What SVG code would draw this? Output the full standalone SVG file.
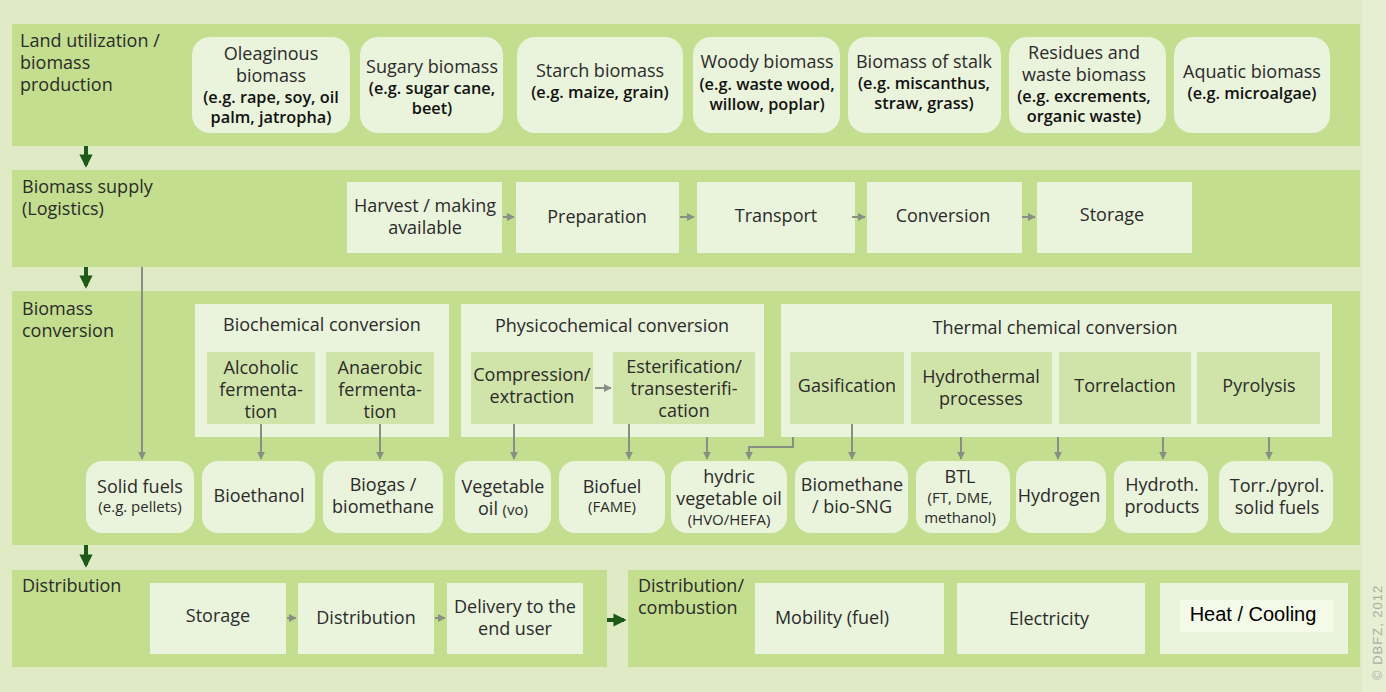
<svg xmlns="http://www.w3.org/2000/svg" width="1386" height="692" viewBox="0 0 1386 692">
<defs>
<style>
.bg{fill:#e0ebc6}
.band{fill:#c3de8e}
.node{fill:#eaf3db}
.sub{fill:#d0e4a9}
.grp{fill:#eaf3db}
text{font-family:"Open Sans",Lato,"Liberation Sans",sans-serif;fill:#2b2b2b}
.t{font-size:18px}
.c{font-size:18px;text-anchor:middle}
.eg{font-size:16.3px;text-anchor:middle;font-weight:600;fill:#111}
.sm{font-size:15px;text-anchor:middle}
.gl{stroke:#8a8f86;stroke-width:2;fill:none}
.dk{stroke:#1d5a17;stroke-width:4;fill:none}
</style>
<marker id="ga" viewBox="0 0 10 10" refX="9" refY="5" markerWidth="4" markerHeight="4" orient="auto"><path d="M0,0 L10,5 L0,10 z" fill="#8a8f86"/></marker>
<marker id="da" viewBox="0 0 10 10" refX="8" refY="5" markerWidth="3.3" markerHeight="3.3" orient="auto"><path d="M0,0 L10,5 L0,10 z" fill="#1d5a17"/></marker>
</defs>
<rect x="0" y="0" width="1386" height="692" class="bg"/>
<rect x="1362" y="0" width="24" height="692" fill="#e6efd2"/>

<!-- bands -->
<g id="band-land">
<rect class="band" x="12" y="24" width="1348" height="122"/>
<text class="t" x="20" y="47">Land utilization /</text>
<text class="t" x="20" y="69">biomass</text>
<text class="t" x="20" y="91">production</text>
</g>
<g id="band-supply">
<rect class="band" x="12" y="170" width="1348" height="97"/>
<text class="t" x="22" y="193">Biomass supply</text>
<text class="t" x="22" y="215">(Logistics)</text>
</g>
<g id="band-conv">
<rect class="band" x="12" y="291" width="1348" height="254"/>
<text class="t" x="22" y="315">Biomass</text>
<text class="t" x="22" y="337">conversion</text>
</g>
<g id="band-dist">
<rect class="band" x="12" y="570" width="595" height="97"/>
<text class="t" x="22" y="592">Distribution</text>
</g>
<g id="band-comb">
<rect class="band" x="628" y="570" width="732" height="97"/>
<text class="t" x="638" y="592">Distribution/</text>
<text class="t" x="638" y="614">combustion</text>
</g>

<!-- biomass production nodes -->
<g id="oleaginous"><rect class="node" x="192" y="37" width="158" height="96" rx="18"/>
<text class="c" x="271" y="60">Oleaginous</text><text class="c" x="271" y="82">biomass</text>
<text class="eg" x="271" y="103">(e.g. rape, soy, oil</text><text class="eg" x="271" y="123">palm, jatropha)</text></g>
<g id="sugary"><rect class="node" x="360" y="37" width="143" height="96" rx="18"/>
<text class="c" x="432" y="73">Sugary biomass</text>
<text class="eg" x="432" y="94">(e.g. sugar cane,</text><text class="eg" x="432" y="114">beet)</text></g>
<g id="starch"><rect class="node" x="517" y="37" width="166" height="96" rx="18"/>
<text class="c" x="600" y="77">Starch biomass</text>
<text class="eg" x="600" y="98">(e.g. maize, grain)</text></g>
<g id="woody"><rect class="node" x="693" y="37" width="147" height="96" rx="18"/>
<text class="c" x="767" y="68">Woody biomass</text>
<text class="eg" x="767" y="90">(e.g. waste wood,</text><text class="eg" x="767" y="110">willow, poplar)</text></g>
<g id="stalk"><rect class="node" x="848" y="37" width="153" height="96" rx="18"/>
<text class="c" x="924" y="68">Biomass of stalk</text>
<text class="eg" x="924" y="89">(e.g. miscanthus,</text><text class="eg" x="924" y="109">straw, grass)</text></g>
<g id="residues"><rect class="node" x="1009" y="37" width="157" height="96" rx="18"/>
<text class="c" x="1084" y="59">Residues and</text><text class="c" x="1084" y="81">waste biomass</text>
<text class="eg" x="1084" y="102">(e.g. excrements,</text><text class="eg" x="1084" y="122">organic waste)</text></g>
<g id="aquatic"><rect class="node" x="1174" y="37" width="156" height="96" rx="18"/>
<text class="c" x="1252" y="78">Aquatic biomass</text>
<text class="eg" x="1252" y="99">(e.g. microalgae)</text></g>

<!-- supply nodes -->
<g id="harvest"><rect class="node" x="347" y="182" width="155" height="71"/>
<text class="c" x="425" y="212">Harvest / making</text><text class="c" x="425" y="234">available</text></g>
<g id="preparation"><rect class="node" x="516" y="182" width="163" height="71"/>
<text class="c" x="597" y="223">Preparation</text></g>
<g id="transport"><rect class="node" x="697" y="182" width="158" height="71"/>
<text class="c" x="776" y="222">Transport</text></g>
<g id="conversion"><rect class="node" x="867" y="182" width="155" height="71"/>
<text class="c" x="943" y="222">Conversion</text></g>
<g id="storage1"><rect class="node" x="1037" y="182" width="155" height="71"/>
<text class="c" x="1112" y="221">Storage</text></g>

<!-- conversion groups -->
<g id="biochemical"><rect class="grp" x="195" y="304" width="254" height="133"/>
<text class="c" x="322" y="331">Biochemical conversion</text>
<rect class="sub" x="207" y="352" width="108" height="72"/>
<text class="c" x="261" y="374">Alcoholic</text><text class="c" x="261" y="396">fermenta-</text><text class="c" x="261" y="418">tion</text>
<rect class="sub" x="326" y="352" width="108" height="72"/>
<text class="c" x="380" y="374">Anaerobic</text><text class="c" x="380" y="396">fermenta-</text><text class="c" x="380" y="418">tion</text></g>
<g id="physicochemical"><rect class="grp" x="461" y="304" width="303" height="133"/>
<text class="c" x="612" y="332">Physicochemical conversion</text>
<rect class="sub" x="471" y="352" width="122" height="72"/>
<text class="c" x="532" y="381">Compression/</text><text class="c" x="532" y="403">extraction</text>
<rect class="sub" x="613" y="352" width="142" height="72"/>
<text class="c" x="684" y="373">Esterification/</text><text class="c" x="684" y="395">transesterifi-</text><text class="c" x="684" y="417">cation</text></g>
<g id="thermal"><rect class="grp" x="781" y="304" width="551" height="133"/>
<text class="c" x="1055" y="334">Thermal chemical conversion</text>
<rect class="sub" x="790" y="352" width="114" height="72"/>
<text class="c" x="847" y="392">Gasification</text>
<rect class="sub" x="911" y="352" width="141" height="72"/>
<text class="c" x="981" y="383">Hydrothermal</text><text class="c" x="981" y="405">processes</text>
<rect class="sub" x="1059" y="352" width="132" height="72"/>
<text class="c" x="1125" y="392">Torrelaction</text>
<rect class="sub" x="1197" y="352" width="123" height="72"/>
<text class="c" x="1259" y="392">Pyrolysis</text></g>

<!-- products -->
<g id="solidfuels"><rect class="node" x="86" y="461" width="108" height="72" rx="16"/>
<text class="c" x="140" y="493">Solid fuels</text><text class="sm" x="140" y="512">(e.g. pellets)</text></g>
<g id="bioethanol"><rect class="node" x="202" y="461" width="113" height="72" rx="16"/>
<text class="c" x="259" y="502">Bioethanol</text></g>
<g id="biogas"><rect class="node" x="323" y="461" width="120" height="72" rx="16"/>
<text class="c" x="383" y="491">Biogas /</text><text class="c" x="383" y="513">biomethane</text></g>
<g id="vegoil"><rect class="node" x="455" y="461" width="96" height="72" rx="16"/>
<text class="c" x="503" y="493">Vegetable</text><text class="c" x="503" y="515">oil <tspan font-size="15">(vo)</tspan></text></g>
<g id="biofuel"><rect class="node" x="559" y="461" width="106" height="72" rx="16"/>
<text class="c" x="612" y="493">Biofuel</text><text class="sm" x="612" y="512">(FAME)</text></g>
<g id="hvo"><rect class="node" x="671" y="461" width="116" height="72" rx="16"/>
<text class="c" x="729" y="483">hydric</text><text class="c" x="729" y="505">vegetable oil</text><text class="sm" x="729" y="525">(HVO/HEFA)</text></g>
<g id="biomethane"><rect class="node" x="795" y="461" width="113" height="72" rx="16"/>
<text class="c" x="852" y="491">Biomethane</text><text class="c" x="852" y="513">/ bio-SNG</text></g>
<g id="btl"><rect class="node" x="916" y="461" width="94" height="72" rx="16"/>
<text class="c" x="960" y="483">BTL</text><text class="sm" x="960" y="503">(FT, DME,</text><text class="sm" x="960" y="523">methanol)</text></g>
<g id="hydrogen"><rect class="node" x="1016" y="461" width="90" height="72" rx="16"/>
<text class="c" x="1059" y="502">Hydrogen</text></g>
<g id="hydroth"><rect class="node" x="1114" y="461" width="94" height="72" rx="16"/>
<text class="c" x="1162" y="491">Hydroth.</text><text class="c" x="1162" y="513">products</text></g>
<g id="torr"><rect class="node" x="1219" y="461" width="114" height="72" rx="16"/>
<text class="c" x="1277" y="492">Torr./pyrol.</text><text class="c" x="1277" y="514">solid fuels</text></g>

<!-- distribution -->
<g id="storage2"><rect class="node" x="150" y="583" width="136" height="71"/>
<text class="c" x="218" y="622">Storage</text></g>
<g id="distribution"><rect class="node" x="298" y="583" width="136" height="71"/>
<text class="c" x="366" y="624">Distribution</text></g>
<g id="delivery"><rect class="node" x="447" y="583" width="136" height="71"/>
<text class="c" x="515" y="613">Delivery to the</text><text class="c" x="515" y="635">end user</text></g>
<g id="mobility"><rect class="node" x="755" y="583" width="189" height="71"/>
<text class="c" x="832" y="624">Mobility (fuel)</text></g>
<g id="electricity"><rect class="node" x="957" y="583" width="188" height="71"/>
<text class="c" x="1049" y="625">Electricity</text></g>
<g id="heat"><rect class="node" x="1160" y="583" width="188" height="71"/>
<rect x="1180" y="600" width="153" height="32" fill="#f4f9e8"/>
<text x="1253" y="621" text-anchor="middle" font-size="20" style="font-family:'Liberation Sans',Arial,sans-serif;fill:#000">Heat / Cooling</text></g>

<text x="1382" y="680" transform="rotate(-90 1382 680)" font-size="13" style="fill:#a9b0a0;font-family:'Liberation Sans',Arial,sans-serif;letter-spacing:1px">© DBFZ, 2012</text>

<!-- connectors -->
<g id="connectors">
<line class="dk" x1="86" y1="146" x2="86" y2="165" marker-end="url(#da)"/>
<line class="dk" x1="86" y1="267" x2="86" y2="286" marker-end="url(#da)"/>
<line class="dk" x1="86" y1="545" x2="86" y2="565" marker-end="url(#da)"/>
<line class="dk" x1="607" y1="620" x2="624" y2="620" marker-end="url(#da)"/>
<line class="gl" x1="503" y1="217" x2="514" y2="217" marker-end="url(#ga)"/>
<line class="gl" x1="680" y1="217" x2="694" y2="217" marker-end="url(#ga)"/>
<line class="gl" x1="852" y1="217" x2="865" y2="217" marker-end="url(#ga)"/>
<line class="gl" x1="1022" y1="217" x2="1035" y2="217" marker-end="url(#ga)"/>
<line class="gl" x1="142" y1="267" x2="142" y2="459" marker-end="url(#ga)"/>
<line class="gl" x1="261" y1="424" x2="261" y2="459" marker-end="url(#ga)"/>
<line class="gl" x1="380" y1="424" x2="380" y2="459" marker-end="url(#ga)"/>
<line class="gl" x1="595" y1="388" x2="611" y2="388" marker-end="url(#ga)"/>
<line class="gl" x1="514" y1="424" x2="514" y2="459" marker-end="url(#ga)"/>
<line class="gl" x1="629" y1="424" x2="629" y2="459" marker-end="url(#ga)"/>
<line class="gl" x1="707" y1="437" x2="707" y2="459" marker-end="url(#ga)"/>
<polyline class="gl" points="793,437 793,447 749,447 749,459" marker-end="url(#ga)"/>
<line class="gl" x1="852" y1="424" x2="852" y2="459" marker-end="url(#ga)"/>
<line class="gl" x1="961" y1="437" x2="961" y2="459" marker-end="url(#ga)"/>
<line class="gl" x1="1058" y1="437" x2="1058" y2="459" marker-end="url(#ga)"/>
<line class="gl" x1="1163" y1="437" x2="1163" y2="459" marker-end="url(#ga)"/>
<line class="gl" x1="1269" y1="437" x2="1269" y2="459" marker-end="url(#ga)"/>
<line class="gl" x1="287" y1="618" x2="296" y2="618" marker-end="url(#ga)"/>
<line class="gl" x1="435" y1="618" x2="445" y2="618" marker-end="url(#ga)"/>
</g>
</svg>
